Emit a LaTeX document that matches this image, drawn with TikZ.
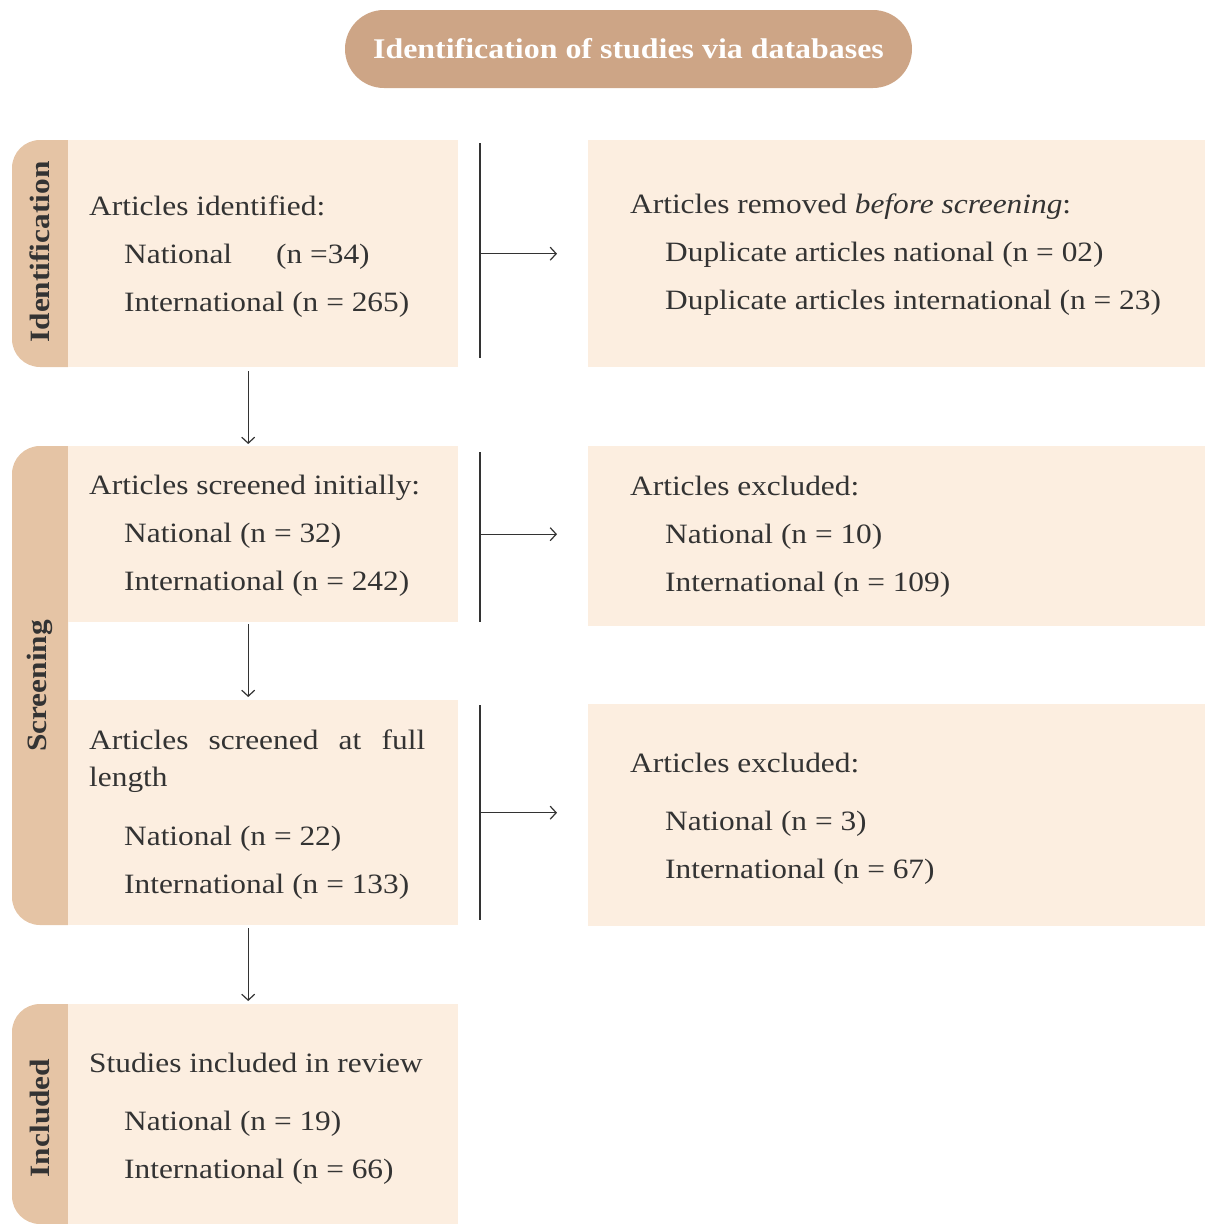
\documentclass[tikz,border=0pt]{standalone}
\usepackage{fontspec}
\setmainfont{Liberation Serif}[FakeStretch=1.12]
\usetikzlibrary{calc,arrows.meta}
\definecolor{titlecol}{HTML}{CDA586}
\definecolor{bandcol}{HTML}{E5C4A5}
\definecolor{boxcol}{HTML}{FCEEE0}
\definecolor{txtcol}{HTML}{333333}

\begin{document}
\begin{tikzpicture}
  [x=1pt, y=-1pt,
   title/.style={fill=titlecol, rounded corners=39pt, minimum width=567pt,
     minimum height=78pt, text=white, font=\fontsize{28.5}{34}\selectfont\bfseries},
   box/.style={fill=boxcol, anchor=north west, inner sep=0pt},
   band/.style={fill=bandcol, rounded corners=28pt},
   phase/.style={rotate=90, text=txtcol, font=\fontsize{28}{32}\selectfont\bfseries},
   txt/.style={anchor=base west, text=txtcol, inner sep=0pt,
     font=\fontsize{28}{34}\selectfont},
   flow/.style={-{Straight Barb[length=6pt,width=13pt]}, line width=1.2pt, draw=txtcol},
   bar/.style={line width=2pt, draw=txtcol}]

  \useasboundingbox (0,0) rectangle (1205,1224);

  \node
  [title]
  (head) at (628.5,49) {Identification of studies via databases};

  \fill[band] (68,140) -- (12,140) -- (12,367) -- (68,367);
  \fill[band] (68,446) -- (12,446) -- (12,925) -- (68,925);
  \fill[band] (68,1004) -- (12,1004) -- (12,1224) -- (68,1224);

  \node
  [phase]
  (phId) at (40,252) {Identification};

  \node
  [phase]
  (phScr) at (40,686) {Screening};

  \node
  [phase]
  (phInc) at (40,1118) {Included};

  \node
  [box, minimum width=390pt, minimum height=227pt]
  (ident) at (68,140) {};

  \node
  [box, minimum width=390pt, minimum height=176pt]
  (scrA) at (68,446) {};

  \node
  [box, minimum width=390pt, minimum height=225pt]
  (scrB) at (68,700) {};

  \node
  [box, minimum width=390pt, minimum height=220pt]
  (incl) at (68,1004) {};

  \node
  [box, minimum width=617pt, minimum height=227pt]
  (rem) at (588,140) {};

  \node
  [box, minimum width=617pt, minimum height=180pt]
  (exA) at (588,446) {};

  \node
  [box, minimum width=617pt, minimum height=222pt]
  (exB) at (588,704) {};

  \node[txt] (identH) at (89,215) {Articles identified:};
  \node[txt] (identN) at (124,263) {\makebox[152pt][l]{National}(n =34)};
  \node[txt] (identI) at (124,311) {International (n = 265)};

  \node[txt] (remH) at (630,213) {Articles removed \emph{before screening}:};
  \node[txt] (remN) at (665,261) {Duplicate articles national (n = 02)};
  \node[txt] (remI) at (665,309) {Duplicate articles international (n = 23)};

  \node[txt] (scrAH) at (89,494) {Articles screened initially:};
  \node[txt] (scrAN) at (124,542) {National (n = 32)};
  \node[txt] (scrAI) at (124,590) {International (n = 242)};

  \node[txt] (exAH) at (630,495) {Articles excluded:};
  \node[txt] (exAN) at (665,543) {National (n = 10)};
  \node[txt] (exAI) at (665,591) {International (n = 109)};

  \node[txt] (scrBH) at (89,749) {\makebox[336pt][s]{Articles screened at full}};
  \node[txt] (scrBL) at (89,786) {length};
  \node[txt] (scrBN) at (124,845) {National (n = 22)};
  \node[txt] (scrBI) at (124,893) {International (n = 133)};

  \node[txt] (exBH) at (630,772) {Articles excluded:};
  \node[txt] (exBN) at (665,830) {National (n = 3)};
  \node[txt] (exBI) at (665,878) {International (n = 67)};

  \node[txt] (inclH) at (89,1072) {Studies included in review};
  \node[txt] (inclN) at (124,1130) {National (n = 19)};
  \node[txt] (inclI) at (124,1178) {International (n = 66)};

  \draw[flow] ([xshift=-15pt,yshift=-4pt]ident.south) -- ([xshift=-15pt,yshift=2pt]scrA.north);
  \draw[flow] ([xshift=-15pt,yshift=-2pt]scrA.south) -- ([xshift=-15pt,yshift=3pt]scrB.north);
  \draw[flow] ([xshift=-15pt,yshift=-3pt]scrB.south) -- ([xshift=-15pt,yshift=3pt]incl.north);

  \draw[bar] ([xshift=22pt,yshift=-3pt]ident.north east) -- ([xshift=22pt,yshift=9pt]ident.south east);
  \draw[bar] ([xshift=22pt,yshift=-6pt]scrA.north east) -- ([xshift=22pt]scrA.south east);
  \draw[bar] ([xshift=22pt,yshift=-5pt]scrB.north east) -- ([xshift=22pt,yshift=5pt]scrB.south east);

  \draw[flow, shorten >=31pt] ([xshift=22pt]ident.east) -- (ident.east -| rem.west);
  \draw[flow, shorten >=31pt] ([xshift=22pt]scrA.east) -- (scrA.east -| exA.west);
  \draw[flow, shorten >=31pt] ([xshift=22pt]scrB.east) -- (scrB.east -| exB.west);
\end{tikzpicture}
\end{document}
